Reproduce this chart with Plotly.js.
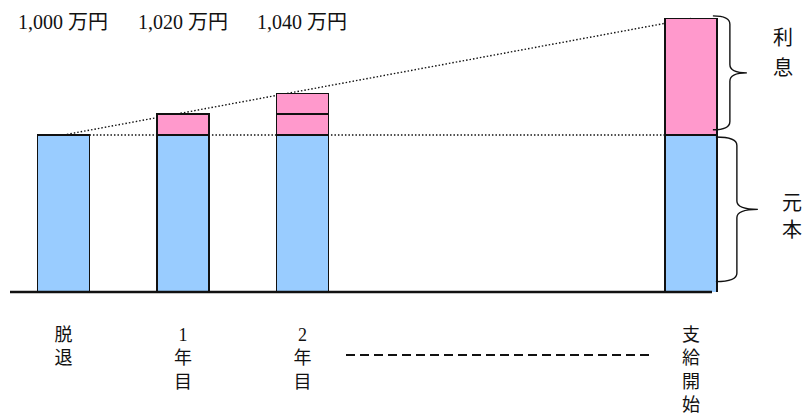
<!DOCTYPE html>
<html>
<head>
<meta charset="utf-8">
<script src="https://cdn.plot.ly/plotly-3.0.1.min.js"></script>
<style>
  html, body { margin: 0; padding: 0; background: #fff; }
  #chart { width: 808px; height: 420px; }
</style>
</head>
<body>
<div id="chart"></div>
<script>
// Stages of the deferred pension and the money held at each stage (万円)
const stages     = ['脱退', '1年目', '2年目', '支給開始'];
const stagePos   = [0, 1, 2, 5.25];
const principal  = [1000, 1000, 1000, 1000];   // 元本
const interestA  = [null, 20, 20, 112];         // 利息 (1st year / accumulated)
const interestB  = [null, null, 20, null];      // 利息 (2nd year)
const showTotal  = [true, true, true, false];
const sideLabels = ['利息', '元本'];

const totals = principal.map((p, i) => p + (interestA[i] || 0) + (interestB[i] || 0));

const BLUE = '#99CCFF', PINK = '#FF99CC', INK = '#111';
const barW = 0.435;
const yMin = 849, yMax = 1129.8;
const serif = 'Liberation Serif, Noto Sans CJK JP, serif';
const gothic = 'Noto Sans CJK JP, sans-serif';

const outline = { color: INK, width: 1.7 };
const traces = [
  { name: '元本', y: principal, color: BLUE },
  { name: '利息', y: interestA, color: PINK },
  { name: '利息2', y: interestB, color: PINK }
].map(s => ({
  type: 'bar', x: stagePos, y: s.y, name: s.name, width: barW,
  marker: { color: s.color, line: outline },
  hoverinfo: 'skip', showlegend: false
}));

// curly brace from yTop down to yBot; x values are pixels relative to the anchor bar
function brace(yTop, yBot, x0, xv, xt, r) {
  const yM = (yTop + yBot) / 2;
  return `M ${x0},${yTop} Q ${xv},${yTop} ${xv},${yTop - r} L ${xv},${yM + r} ` +
         `Q ${xv},${yM} ${xt},${yM} Q ${xv},${yM} ${xv},${yM - r} ` +
         `L ${xv},${yBot + r} Q ${xv},${yBot} ${x0},${yBot}`;
}

const last = stagePos.length - 1;
const dotted = { color: INK, width: 1.4, dash: '1.5px,2px' };

const shapes = [
  // growth line through the bar tops
  { type: 'line', layer: 'below', xref: 'x', yref: 'y',
    x0: stagePos[0], y0: totals[0], x1: stagePos[last], y1: totals[last], line: dotted },
  // principal level
  { type: 'line', layer: 'below', xref: 'x', yref: 'y',
    x0: stagePos[0] + barW / 2, y0: principal[0],
    x1: stagePos[last] - barW / 2, y1: principal[0], line: dotted },
  // ground line
  { type: 'line', xref: 'paper', yref: 'paper',
    x0: 10 / 808, x1: 712 / 808, y0: 0, y1: 0, line: { color: INK, width: 2.6 } },
  // elapsed-years ellipsis
  { type: 'line', xref: 'paper', yref: 'paper',
    x0: 346 / 808, x1: 650 / 808, y0: -0.2158, y1: -0.2158,
    line: { color: INK, width: 1.8, dash: '9px,5px' } },
  // braces
  { type: 'path', xref: 'x', yref: 'y', xsizemode: 'pixel', xanchor: stagePos[last],
    path: brace(totals[last] + 2.5, principal[last] + 5, 22, 39, 56, 8),
    line: { color: INK, width: 1.4 } },
  { type: 'path', xref: 'x', yref: 'y', xsizemode: 'pixel', xanchor: stagePos[last],
    path: brace(principal[last] - 2, yMin + 10, 25, 46, 67, 8),
    line: { color: INK, width: 1.4 } }
];

const annotations = [];
totals.forEach((t, i) => {
  if (!showTotal[i]) return;
  annotations.push({
    xref: 'x', yref: 'paper', x: stagePos[i], y: 0.9247, yanchor: 'middle',
    text: t.toLocaleString('en-US') + ' 万円', showarrow: false,
    font: { family: serif, size: 20, color: INK }
  });
});

// vertical side labels, one glyph per annotation
function sideLabel(text, yVal, xshift, shifts) {
  text.split('').forEach((ch, k) => annotations.push({
    xref: 'x', yref: 'y', x: stagePos[last], xshift, y: yVal, yshift: shifts[k],
    yanchor: 'middle', text: ch, showarrow: false,
    font: { family: gothic, size: 20, color: INK }
  }));
}
sideLabel(sideLabels[0], (totals[last] + principal[last]) / 2, 92, [40, 10]);
sideLabel(sideLabels[1], (principal[last] + yMin) / 2, 101, [12, -15]);

const layout = {
  width: 808, height: 420,
  margin: { l: 0, r: 0, t: 0, b: 128 },
  paper_bgcolor: '#fff', plot_bgcolor: '#fff',
  barmode: 'stack',
  xaxis: {
    range: [-0.531, 6.230], showgrid: false, zeroline: false, showline: false,
    tickvals: stagePos,
    ticktext: stages.map(s => s.split('').join('<br>')),
    ticks: '', ticklabelstandoff: 30,
    tickfont: { family: serif, size: 18, color: INK }
  },
  yaxis: { range: [yMin, yMax], visible: false, fixedrange: true },
  shapes, annotations
};

Plotly.newPlot('chart', traces, layout, { displayModeBar: false, staticPlot: true });
</script>
</body>
</html>
